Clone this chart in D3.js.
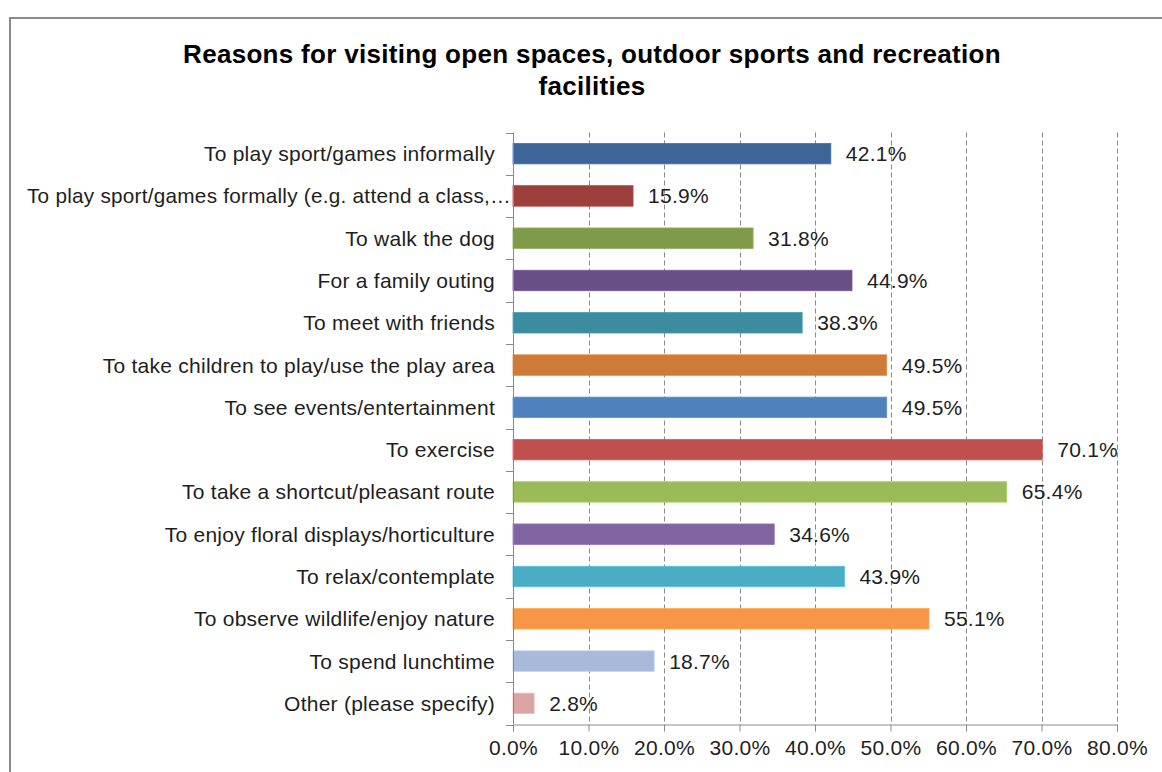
<!DOCTYPE html>
<html>
<head>
<meta charset="utf-8">
<script src="https://cdn.jsdelivr.net/npm/d3@7"></script>
<style>
  html, body { margin: 0; padding: 0; background: #fff; }
  svg { display: block; font-family: "Liberation Sans", Arial, sans-serif; }
</style>
</head>
<body>
<svg id="chart" width="1162" height="772"></svg>
<script>
// Survey reasons (top to bottom) and share of respondents, in percent
const categories = [
  "To play sport/games informally",
  "To play sport/games formally (e.g. attend a class,\u2026",
  "To walk the dog",
  "For a family outing",
  "To meet with friends",
  "To take children to play/use the play area",
  "To see events/entertainment",
  "To exercise",
  "To take a shortcut/pleasant route",
  "To enjoy floral displays/horticulture",
  "To relax/contemplate",
  "To observe wildlife/enjoy nature",
  "To spend lunchtime",
  "Other (please specify)"
];
const values = [42.1, 15.9, 31.8, 44.9, 38.3, 49.5, 49.5, 70.1, 65.4, 34.6, 43.9, 55.1, 18.7, 2.8];
const barColors = [
  "#3e6597", "#9d3f3c", "#7f9b49", "#684f86", "#3b8c9f", "#ce7a38", "#4f81bd",
  "#c0504d", "#9bbb59", "#8064a2", "#4bacc6", "#f79646", "#a9b9d9", "#d9a5a4"
];
const xTicks = [0, 10, 20, 30, 40, 50, 60, 70, 80];
const titleLines = [
  "Reasons for visiting open spaces, outdoor sports and recreation",
  "facilities"
];

const textColor = "#1e1e1e";
const labelFont = 21;
const labelSpacing = 0.25;

const svg = d3.select("#chart");

// Outer chart frame (runs off the right and bottom edges)
svg.append("rect")
  .attr("x", 10).attr("y", 18)
  .attr("width", 1200).attr("height", 800)
  .attr("fill", "#fff")
  .attr("stroke", "#8a8a8a")
  .attr("stroke-width", 2);

// Title
svg.append("g").selectAll("text")
  .data(titleLines)
  .join("text")
  .attr("x", 592)
  .attr("y", (d, i) => 63 + i * 32)
  .attr("text-anchor", "middle")
  .attr("font-weight", "bold")
  .attr("font-size", 26)
  .attr("letter-spacing", 0.3)
  .attr("fill", "#000")
  .text(d => d);

const plot = { left: 513, right: 1117, top: 132.5, bottom: 724.5 };

const x = d3.scaleLinear().domain([0, 80]).range([plot.left, plot.right]);
const y = d3.scaleBand().domain(categories).range([plot.top, plot.bottom]).paddingInner(0.515).paddingOuter(0.2575);
const band = d3.scaleBand().domain(categories).range([plot.top, plot.bottom]);

// Dashed vertical gridlines
svg.append("g").selectAll("line")
  .data(xTicks.filter(t => t > 0))
  .join("line")
  .attr("x1", d => Math.round(x(d)) + 0.5).attr("x2", d => Math.round(x(d)) + 0.5)
  .attr("y1", plot.top).attr("y2", plot.bottom)
  .attr("stroke", "#8a8a8a")
  .attr("stroke-width", 1)
  .attr("stroke-dasharray", "5,3");

// Bars
svg.append("g").selectAll("rect")
  .data(values)
  .join("rect")
  .attr("x", x(0))
  .attr("y", (d, i) => y(categories[i]))
  .attr("width", d => x(d) - x(0))
  .attr("height", y.bandwidth())
  .attr("fill", (d, i) => barColors[i])
  .attr("stroke", (d, i) => d3.color(barColors[i]).brighter(0.35))
  .attr("stroke-width", 0.8);

// Value labels
svg.append("g").selectAll("text")
  .data(values)
  .join("text")
  .attr("x", d => x(d) + 15)
  .attr("y", (d, i) => y(categories[i]) + y.bandwidth() / 2)
  .attr("dy", "0.36em")
  .attr("font-size", labelFont)
  .attr("letter-spacing", labelSpacing)
  .attr("fill", textColor)
  .text(d => d.toFixed(1) + "%");

// Y axis: category labels with tick marks between categories
const yAxis = svg.append("g").attr("transform", `translate(${plot.left},0)`);
yAxis.append("line")
  .attr("x1", 0.5).attr("x2", 0.5)
  .attr("y1", plot.top).attr("y2", plot.bottom)
  .attr("stroke", "#8a8a8a");
yAxis.selectAll("line.tick")
  .data(d3.range(categories.length + 1))
  .join("line")
  .attr("class", "tick")
  .attr("x1", -7).attr("x2", 0.5)
  .attr("y1", i => Math.round(plot.top + i * band.bandwidth()) + 0.5)
  .attr("y2", i => Math.round(plot.top + i * band.bandwidth()) + 0.5)
  .attr("stroke", "#8a8a8a");

const labelEnd = plot.left - 18;
const labelMinX = 27;
yAxis.selectAll("text")
  .data(categories)
  .join("text")
  .attr("x", labelEnd - plot.left)
  .attr("y", d => band(d) + band.bandwidth() / 2)
  .attr("dy", "0.36em")
  .attr("text-anchor", "end")
  .attr("font-size", labelFont)
  .attr("letter-spacing", labelSpacing)
  .attr("fill", textColor)
  .text(d => d)
  .each(function () {
    // A label too long for the margin is fitted between the frame and the axis
    const w = this.getComputedTextLength();
    if (labelEnd - w < labelMinX) {
      d3.select(this)
        .attr("text-anchor", "start")
        .attr("x", labelMinX - plot.left)
        .attr("textLength", plot.left - 2 - labelMinX)
        .attr("lengthAdjust", "spacingAndGlyphs");
    }
  });

// X axis
const xAxis = d3.axisBottom(x)
  .tickValues(xTicks)
  .tickFormat(d => d.toFixed(1) + "%")
  .tickSize(7)
  .tickPadding(9);
const gx = svg.append("g")
  .attr("transform", `translate(0,${plot.bottom})`)
  .call(xAxis);
gx.select(".domain").attr("stroke", "#8a8a8a");
gx.selectAll(".tick line").attr("stroke", "#8a8a8a");
gx.selectAll(".tick text")
  .attr("font-family", "\"Liberation Sans\", Arial, sans-serif")
  .attr("font-size", labelFont)
  .attr("letter-spacing", labelSpacing)
  .attr("fill", textColor);
</script>
</body>
</html>
